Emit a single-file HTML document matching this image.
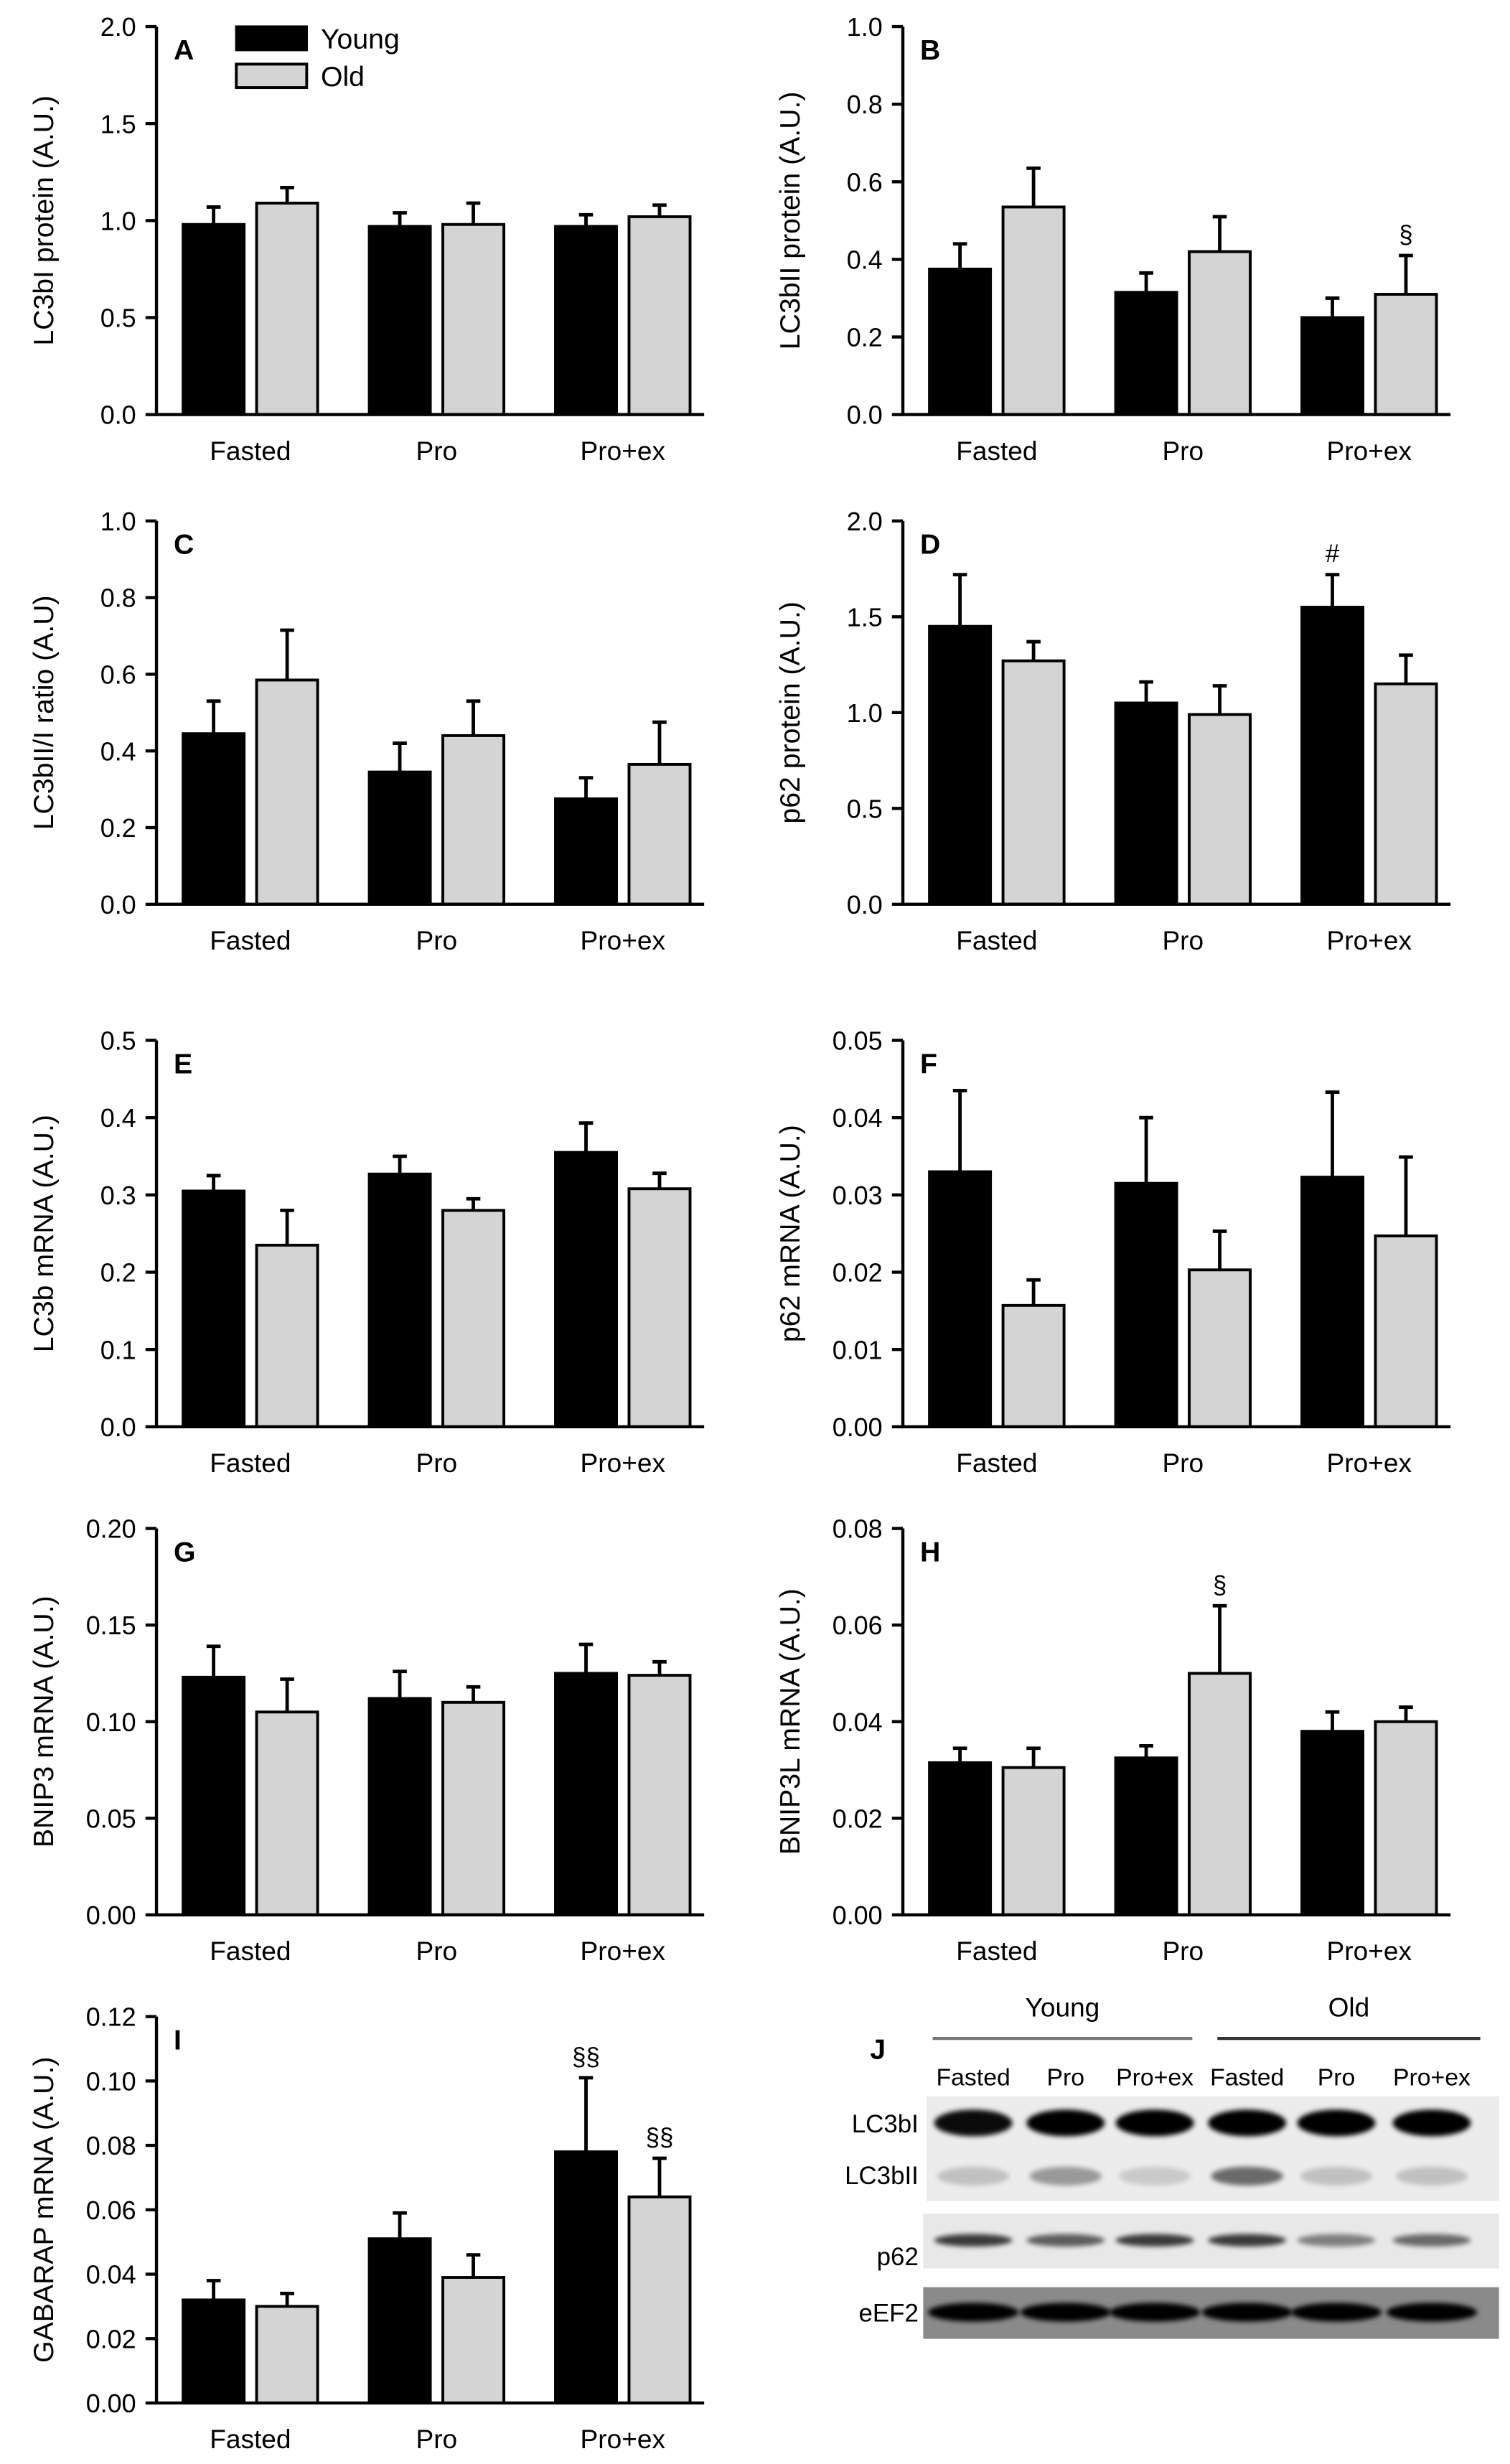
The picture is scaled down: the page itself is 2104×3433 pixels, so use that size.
<!DOCTYPE html>
<html><head><meta charset="utf-8"><style>
html,body{margin:0;padding:0;background:#fff;}
svg{display:block;}
text{font-family:"Liberation Sans",sans-serif;fill:#000;}
</style></head><body>
<svg id="fig" xmlns="http://www.w3.org/2000/svg" width="2104" height="3433" viewBox="0 0 965 1575" preserveAspectRatio="none">
<defs><filter id="blur" x="-20%" y="-50%" width="140%" height="200%"><feGaussianBlur stdDeviation="1.6"/></filter></defs>
</svg>
<script>
const categories=["Fasted","Pro","Pro+ex"];
const aYoung=[0.98,0.97,0.97], aYoungErr=[0.09,0.07,0.06], aOld=[1.09,0.98,1.02], aOldErr=[0.08,0.11,0.06];
const aTicks=["0.0","0.5","1.0","1.5","2.0"];
const bYoung=[0.375,0.315,0.25], bYoungErr=[0.065,0.05,0.05], bOld=[0.535,0.42,0.31], bOldErr=[0.1,0.09,0.1];
const bTicks=["0.0","0.2","0.4","0.6","0.8","1.0"];
const cYoung=[0.445,0.345,0.275], cYoungErr=[0.085,0.075,0.055], cOld=[0.585,0.44,0.365], cOldErr=[0.13,0.09,0.11];
const cTicks=["0.0","0.2","0.4","0.6","0.8","1.0"];
const dYoung=[1.45,1.05,1.55], dYoungErr=[0.27,0.11,0.17], dOld=[1.27,0.99,1.15], dOldErr=[0.1,0.15,0.15];
const dTicks=["0.0","0.5","1.0","1.5","2.0"];
const eYoung=[0.305,0.327,0.355], eYoungErr=[0.02,0.023,0.038], eOld=[0.235,0.28,0.308], eOldErr=[0.045,0.015,0.02];
const eTicks=["0.0","0.1","0.2","0.3","0.4","0.5"];
const fYoung=[0.033,0.0315,0.0323], fYoungErr=[0.0105,0.0085,0.011], fOld=[0.0157,0.0203,0.0247], fOldErr=[0.0033,0.005,0.0102];
const fTicks=["0.00","0.01","0.02","0.03","0.04","0.05"];
const gYoung=[0.123,0.112,0.125], gYoungErr=[0.016,0.014,0.015], gOld=[0.105,0.11,0.124], gOldErr=[0.017,0.008,0.007];
const gTicks=["0.00","0.05","0.10","0.15","0.20"];
const hYoung=[0.0315,0.0325,0.038], hYoungErr=[0.003,0.0025,0.004], hOld=[0.0305,0.05,0.04], hOldErr=[0.004,0.014,0.003];
const hTicks=["0.00","0.02","0.04","0.06","0.08"];
const iYoung=[0.032,0.051,0.078], iYoungErr=[0.006,0.008,0.023], iOld=[0.03,0.039,0.064], iOldErr=[0.004,0.007,0.012];
const iTicks=["0.00","0.02","0.04","0.06","0.08","0.10","0.12"];

const svg=document.getElementById('fig');
const NS="http://www.w3.org/2000/svg";
function mk(tag,attrs,parent){const e=document.createElementNS(NS,tag);for(const k in attrs)e.setAttribute(k,attrs[k]);(parent||svg).appendChild(e);return e;}
function txt(s,attrs,parent){const e=mk('text',attrs,parent);e.textContent=s;return e;}

function panel(id,letter,ox,top,bot,ticks,ylabel,young,yErr,old,oErr,marks){
  const g=mk('g',{});
  
  
  const max=parseFloat(ticks[ticks.length-1]);
  const ax=ox+100;
  const y=v=>bot-(v/max)*(bot-top);
  const x0=i=>ox+117+i*119;
  for(let i=0;i<categories.length;i++){
    [[young,yErr,'#000',0,'young'],[old,oErr,'#d4d4d4',47,'old']].forEach(s=>{
      const v=s[0][i],e=s[1][i],bx=x0(i)+s[3];
      const r=mk('rect',{x:bx,y:y(v),width:39,height:bot-y(v),fill:s[2],stroke:'#000','stroke-width':1.8},g);
      
      
      const l=mk('path',{d:`M${bx+19.5},${y(v)}V${y(v+e)}M${bx+15},${y(v+e)}H${bx+24}`,stroke:'#000','stroke-width':2.2,fill:'none'},g);
      
      
    });
    const t=txt(categories[i],{x:x0(i)+43,y:bot+29,'font-size':17,'text-anchor':'middle'},g);
    
    
  }
  (marks||[]).forEach(m=>{
    const arr=m[1]==='y'?young:old, er=m[1]==='y'?yErr:oErr;
    const bx=x0(m[0])+(m[1]==='y'?0:47)+19.5;
    const t=txt(m[2],{x:bx,y:y(arr[m[0]]+er[m[0]])-8,'font-size':16,'text-anchor':'middle'},g);
    
    
  });
  const a=mk('path',{d:`M${ax},${top}V${bot}H${ox+450}`,stroke:'#000','stroke-width':2,fill:'none'},g);
  
  
  ticks.forEach((tk,k)=>{
    const yy=y(parseFloat(tk));
    mk('line',{x1:ax-7,x2:ax,y1:yy,y2:yy,stroke:'#000','stroke-width':2},g);
    const t=txt(tk,{x:ax-13,y:yy+6,'font-size':16.5,'text-anchor':'end'},g);
    
    
  });
  const yl=txt(ylabel,{x:0,y:0,'font-size':18,'text-anchor':'middle',transform:`translate(${ox+34},${(top+bot)/2}) rotate(-90)`},g);
  
  
  const lt=txt(letter,{x:ax+11,y:top+21,'font-size':18,'font-weight':'bold'},g);
  
  
}
const R=[[17,265],[333,578],[665,912],[977,1224],[1289,1536]];
panel('a','A',0,R[0][0],R[0][1],aTicks,'LC3bI protein (A.U.)',aYoung,aYoungErr,aOld,aOldErr);
panel('b','B',477,R[0][0],R[0][1],bTicks,'LC3bII protein (A.U.)',bYoung,bYoungErr,bOld,bOldErr,[[2,'o','§']]);
panel('c','C',0,R[1][0],R[1][1],cTicks,'LC3bII/I ratio (A.U)',cYoung,cYoungErr,cOld,cOldErr);
panel('d','D',477,R[1][0],R[1][1],dTicks,'p62 protein (A.U.)',dYoung,dYoungErr,dOld,dOldErr,[[2,'y','#']]);
panel('e','E',0,R[2][0],R[2][1],eTicks,'LC3b mRNA (A.U.)',eYoung,eYoungErr,eOld,eOldErr);
panel('f','F',477,R[2][0],R[2][1],fTicks,'p62 mRNA (A.U.)',fYoung,fYoungErr,fOld,fOldErr);
panel('g','G',0,R[3][0],R[3][1],gTicks,'BNIP3 mRNA (A.U.)',gYoung,gYoungErr,gOld,gOldErr);
panel('h','H',477,R[3][0],R[3][1],hTicks,'BNIP3L mRNA (A.U.)',hYoung,hYoungErr,hOld,hOldErr,[[1,'o','§']]);
panel('i','I',0,R[4][0],R[4][1],iTicks,'GABARAP mRNA (A.U.)',iYoung,iYoungErr,iOld,iOldErr,[[2,'y','§§'],[2,'o','§§']]);

const lg=mk('g',{});


mk('rect',{x:151,y:17,width:45,height:15,fill:'#000',stroke:'#000','stroke-width':1.5},lg);
txt('Young',{x:205,y:31,'font-size':18},lg);
mk('rect',{x:151,y:41,width:45,height:15,fill:'#d4d4d4',stroke:'#000','stroke-width':1.8},lg);
txt('Old',{x:205,y:55,'font-size':18},lg);

const jg=mk('g',{});


txt('J',{x:556,y:1316,'font-size':18,'font-weight':'bold'},jg);
txt('Young',{x:679,y:1289,'font-size':17,'text-anchor':'middle'},jg);
txt('Old',{x:862,y:1289,'font-size':17,'text-anchor':'middle'},jg);
mk('line',{x1:596,x2:762,y1:1303,y2:1303,stroke:'#777','stroke-width':2},jg);
mk('line',{x1:778,x2:946,y1:1303,y2:1303,stroke:'#333','stroke-width':2},jg);
const lanes=[622,681,738,797,854,915];
const laneLabels=["Fasted","Pro","Pro+ex","Fasted","Pro","Pro+ex"];
lanes.forEach((lx,i)=>{txt(laneLabels[i],{x:lx,y:1333,'font-size':15.5,'text-anchor':'middle',fill:'#222'},jg);});
mk('rect',{x:592,y:1340,width:366,height:67,fill:'#ececec'},jg);
mk('rect',{x:590,y:1415,width:368,height:35,fill:'#e8e8e8'},jg);
mk('rect',{x:590,y:1462,width:368,height:33,fill:'#8a8a8a'},jg);
const lc1=[0.95,1,1,1,1,1], lc2=[0.18,0.35,0.14,0.55,0.18,0.18], p62=[0.75,0.6,0.75,0.75,0.45,0.55];
lanes.forEach((lx,i)=>{
  mk('ellipse',{cx:lx,cy:1357,rx:25,ry:8.5,fill:'#000',opacity:lc1[i],filter:'url(#blur)'},jg);
  mk('ellipse',{cx:lx,cy:1391,rx:23,ry:6,fill:'#000',opacity:lc2[i],filter:'url(#blur)'},jg);
  mk('ellipse',{cx:lx,cy:1432,rx:25,ry:4,fill:'#000',opacity:p62[i],filter:'url(#blur)'},jg);
  mk('ellipse',{cx:lx,cy:1478,rx:29,ry:6,fill:'#000',opacity:1,filter:'url(#blur)'},jg);
});
txt('LC3bI',{x:587,y:1363,'font-size':16,'text-anchor':'end'},jg);
txt('LC3bII',{x:587,y:1396,'font-size':16,'text-anchor':'end'},jg);
txt('p62',{x:587,y:1448,'font-size':16,'text-anchor':'end'},jg);
txt('eEF2',{x:587,y:1484,'font-size':16,'text-anchor':'end'},jg);
</script>
</body></html>
